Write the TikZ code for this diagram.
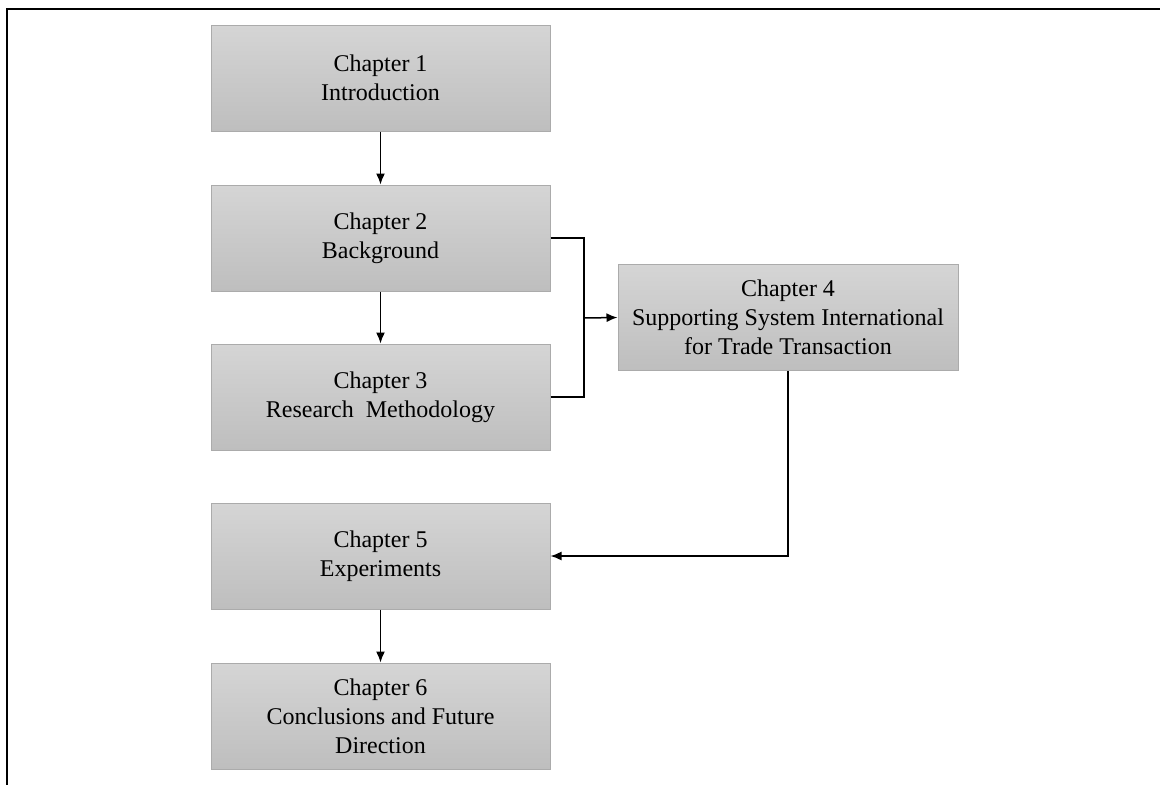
\documentclass[tikz,border=0pt]{standalone}
\usepackage{fontspec}
\setmainfont{Liberation Serif}
\usetikzlibrary{arrows.meta}
\definecolor{boxtop}{HTML}{D5D5D5}
\definecolor{boxbot}{HTML}{BEBEBE}
\definecolor{boxline}{HTML}{ABABAB}
\begin{document}
\begin{tikzpicture}[x=1pt,y=-1pt,
  chapbox/.style={rectangle, draw=boxline, line width=1pt,
    top color=boxtop, bottom color=boxbot,
    minimum width=339pt, minimum height=106pt, inner sep=0pt,
    align=center, font=\fontsize{24}{29}\selectfont},
  link/.style={line width=1.5pt, black},
  flow/.style={link, -{Latex[length=11pt,width=9pt]}}]
  \useasboundingbox (0,0) rectangle (1160,785);
  % frame: top and left rules only
  \draw[line width=2.6pt] (1160,9) -- (7,9) -- (7,785);

  \node[chapbox] (c1) at (380.5,78)  {Chapter 1\\Introduction};
  \node[chapbox] (c2) at (380.5,238) {Chapter 2\\Background};
  \node[chapbox] (c3) at (380.5,397) {Chapter 3\\Research\ \ Methodology};
  \node[chapbox, minimum width=340pt] (c4) at (788,317.5) {Chapter 4\\Supporting System International\\for Trade Transaction};
  \node[chapbox] (c5) at (380.5,556) {Chapter 5\\Experiments};
  \node[chapbox] (c6) at (380.5,716) {Chapter 6\\Conclusions and Future\\Direction};

  \coordinate (join) at (584,318);

  \draw[flow] (c1) -- (c2);
  \draw[flow] (c2) -- (c3);
  \draw[link] (c2.east) -| (join);
  \draw[link] (c3.east) -| (join);
  \draw[flow] (join) -- (c4.west);
  \draw[flow] (c4.south) |- (c5.east);
  \draw[flow] (c5) -- (c6);
\end{tikzpicture}
\end{document}
